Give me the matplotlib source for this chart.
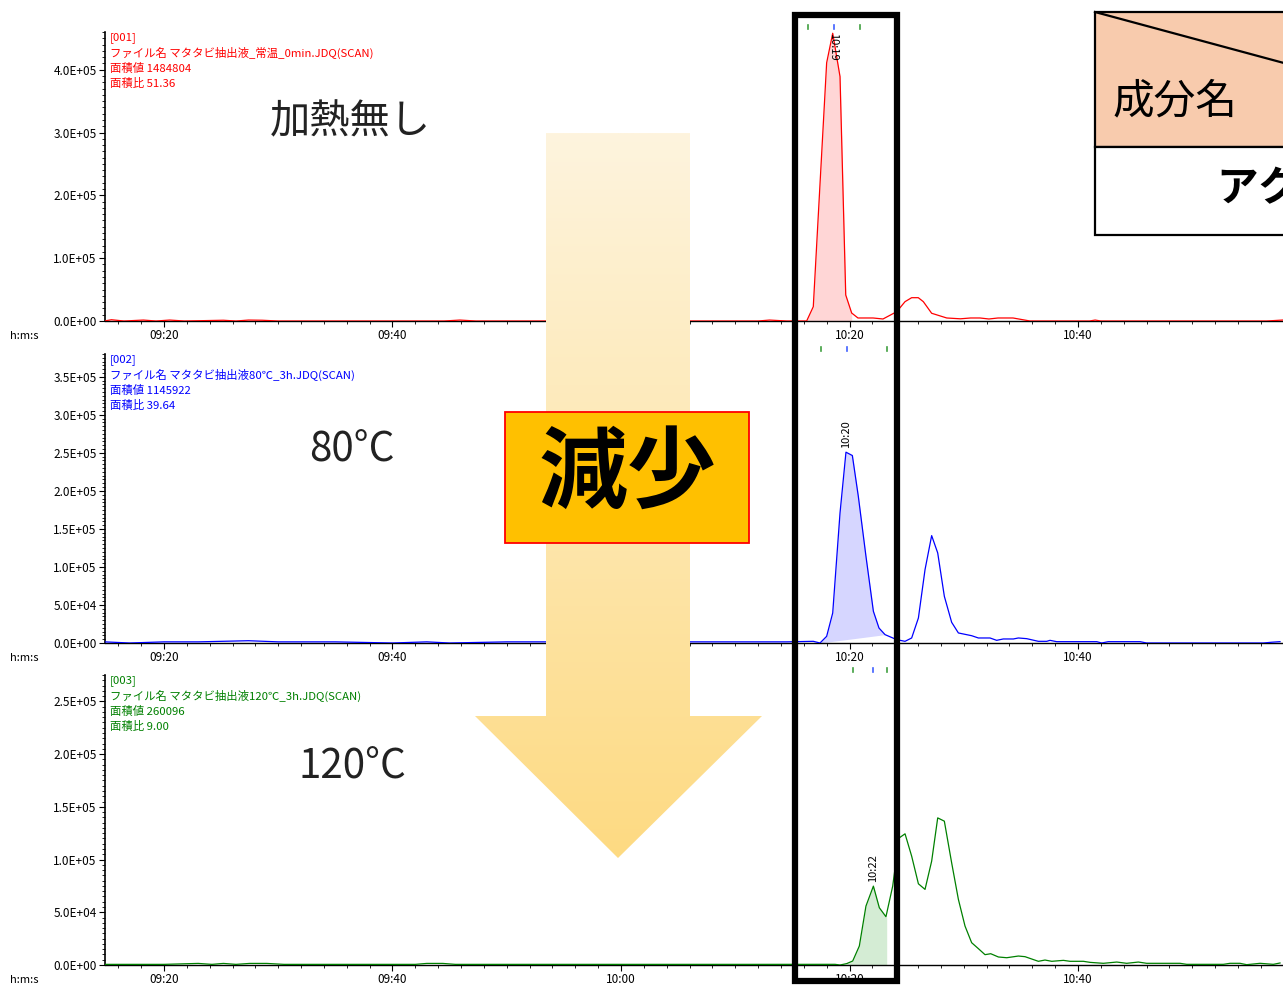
import numpy as np
import matplotlib.pyplot as plt
from matplotlib.patches import Rectangle, Polygon
from matplotlib.ticker import MultipleLocator, FuncFormatter

plt.rcParams['font.family'] = ['Noto Sans CJK JP', 'DejaVu Sans']

# retention time in seconds (09:20 = 560 s)
t1 = [554.8, 555.4, 556.5, 558.2, 559.3, 560.5, 561.8, 565.2, 566.3, 567.4, 568.6, 570.0,
      584.5, 585.9, 587.3, 612.0, 613.0, 614.5,
      616.25, 616.83, 618.0, 618.53, 619.17, 619.67, 620.19, 620.74, 622.06, 622.93,
      624.13, 624.86, 625.44, 626.02, 626.46, 627.19, 628.51, 629.7, 630.6, 631.42,
      632.2, 633.0, 634.31, 635.80, 641.0, 641.5, 642.0, 656.5, 657.9]
v1 = [0, 2000, 0, 1500, 0, 1500, 0, 1200, 0, 1500, 1200, 0,
      0, 1500, 0, 0, 1500, 0,
      0, 22800, 411000, 458000, 389000, 41400, 12700, 4800, 4800, 3200,
      14800, 30800, 37100, 37100, 30800, 12300, 4800, 3500, 4800, 4800,
      3200, 4800, 4800, 0, 0, 1500, 0, 0, 1500]

t2 = [554.8, 557.0, 560.0, 563.0, 567.4, 570.0, 575.0, 580.0, 583.0, 585.0, 590.0, 612.0,
      614.5, 616.83, 617.42, 618.0, 618.53, 619.17, 619.69, 620.25, 620.77, 621.44,
      622.09, 622.58, 623.11, 624.13, 624.86, 625.44, 626.03, 626.61, 627.19, 627.72,
      628.30, 628.94, 629.53, 630.69, 631.28, 632.30, 632.88, 633.46, 634.34, 634.78,
      635.51, 636.53, 637.26, 637.55, 638.13, 641.64, 642.07, 642.65, 645.43, 646.01,
      656.22, 656.95, 657.68]
v2 = [1500, 0, 1500, 1500, 3000, 1500, 1500, 0, 1500, 0, 1500, 1500,
      1500, 2200, 0, 8770, 39470, 171000, 250900, 246500, 193000, 114000,
      41700, 19700, 11000, 4400, 2200, 6600, 32900, 96500, 141200, 118400,
      61400, 27200, 13200, 9600, 6600, 6600, 3500, 5300, 5300, 6600,
      5700, 2200, 2200, 3500, 1750, 1750, 0, 1750, 1750, 0,
      0, 1000, 1750]

t3 = [554.8, 560.0, 563.0, 564.2, 565.2, 566.3, 567.5, 569.0, 570.5, 582.0, 583.0, 584.4,
      585.5, 587.0, 612.0,
      618.73, 619.17, 619.75, 620.28, 620.86, 621.44, 622.09, 622.61, 623.19, 623.78,
      624.13, 624.36, 624.86, 625.44, 626.03, 626.61, 627.19, 627.72, 628.30, 628.94,
      629.53, 630.11, 630.69, 631.28, 631.86, 632.36, 633.03, 633.76, 634.78, 635.36,
      636.53, 637.11, 637.70, 638.72, 639.30, 640.47, 641.05, 642.22, 643.39, 644.26,
      645.28, 646.01, 648.93, 649.51, 652.72, 653.30, 654.18, 654.76, 655.93, 657.09,
      657.68]
v3 = [600, 600, 1500, 600, 1500, 600, 1500, 1500, 600, 600, 1500, 1500,
      600, 600, 600,
      630, 0, 1300, 3790, 18000, 55900, 74800, 54300, 45800, 74800,
      103200, 120600, 124400, 103200, 77000, 71700, 98500, 139500, 136400, 96900,
      62200, 36900, 21150, 15500, 9800, 10700, 7600, 6900, 8500, 7900,
      3500, 4700, 3500, 4400, 3500, 3500, 2500, 1600, 2800, 1600,
      2800, 1600, 1600, 630, 630, 1600, 1600, 300, 1600, 630,
      1900]

titles = ['[001]', '[002]', '[003]']
files = ['ファイル名 マタタビ抽出液_常温_0min.JDQ(SCAN)',
         'ファイル名 マタタビ抽出液80℃_3h.JDQ(SCAN)',
         'ファイル名 マタタビ抽出液120℃_3h.JDQ(SCAN)']
areas = ['面積値 1484804', '面積値 1145922', '面積値 260096']
ratios = ['面積比 51.36', '面積比 39.64', '面積比 9.00']
conditions = ['加熱無し', '80°C', '120°C']
peak_rt = ['10:19', '10:20', '10:22']
# integration window and baseline end value for each peak
fill_start = [616.25, 617.42, 619.75]
fill_end = [620.19, 623.11, 623.19]
fill_base_end = [0, 11000, 0]
markers = [[616.4, 618.6, 620.9], [617.5, 619.8, 623.3], [620.3, 622.1, 623.3]]
ymax = [4.6e5, 3.8e5, 2.75e5]
ymajor = [1e5, 5e4, 5e4]

colors = ['#ff0000', '#0000ff', '#008000']
fills = ['#ffd6d6', '#d6d6ff', '#d4ecd4']

W, H = 1283, 985
fig = plt.figure(figsize=(W / 100, H / 100), dpi=100)

series = [(t1, v1), (t2, v2), (t3, v3)]
axes_px = [(32, 321), (354, 643), (675, 965)]

for i, (t, v) in enumerate(series):
    top, bot = axes_px[i]
    ax = fig.add_axes([105 / W, 1 - bot / H, 1 - 105 / W, (bot - top) / H])
    t = np.array(t)
    v = np.array(v, dtype=float)
    c = colors[i]
    ax.plot(t, v, color=c, lw=0.9, zorder=3)
    m = (t >= fill_start[i]) & (t <= fill_end[i])
    base = np.interp(t[m], [fill_start[i], fill_end[i]], [0, fill_base_end[i]])
    ax.fill_between(t[m], base, v[m], color=fills[i], lw=0, zorder=2)
    if i == 2:
        ax.vlines(fill_end[i], 0, v[m][-1], color=fills[i], lw=1, zorder=2)

    # apex of the integrated peak
    k = int(np.argmax(v[m]))
    pk_t, pk_v = t[m][k], v[m][k]
    if i == 0:
        ax.text(pk_t, ymax[i] * 0.995, peak_rt[i], rotation=270, ha='center', va='top', fontsize=8)
    else:
        ax.annotate(peak_rt[i], (pk_t, pk_v), xytext=(0, 3), textcoords='offset points',
                    rotation=90, ha='center', va='bottom', fontsize=8)

    for j, mx in enumerate(markers[i]):
        mc = '#4060ff' if j == 1 else '#40a040'
        ax.plot([mx, mx], [1.009, 1.024], color=mc, lw=1.2,
                transform=ax.get_xaxis_transform(), clip_on=False)

    ax.set_xlim(554.84, 657.94)
    ax.set_ylim(0, ymax[i])
    ax.xaxis.set_major_locator(MultipleLocator(20))
    ax.xaxis.set_minor_locator(MultipleLocator(2))
    ax.xaxis.set_major_formatter(FuncFormatter(lambda x, p: f"{int(round(x)) // 60:02d}:{int(round(x)) % 60:02d}"))
    ax.yaxis.set_major_locator(MultipleLocator(ymajor[i]))
    ax.yaxis.set_minor_locator(MultipleLocator(ymajor[i] / 10))
    ax.yaxis.set_major_formatter(FuncFormatter(lambda y, p: f"{y:.1E}"))
    ax.tick_params(which='major', direction='out', length=4, width=0.8, labelsize=8.5, pad=2)
    ax.tick_params(which='minor', direction='out', length=2, width=0.6)
    for s in ['top', 'right']:
        ax.spines[s].set_visible(False)
    ax.spines['left'].set_linewidth(1.2)
    ax.spines['bottom'].set_linewidth(1.0)
    ax.patch.set_alpha(0)

    info = [titles[i], files[i], areas[i], ratios[i]]
    for j, line in enumerate(info):
        ax.annotate(line, (0, 1), xycoords='axes fraction',
                    xytext=(3.6, -(6 + 15.3 * j) * 0.72), textcoords='offset points',
                    va='center', ha='left', fontsize=8.2, color=c)

    fig.text(10 / W, 1 - (bot + 15) / H, 'h:m:s', fontsize=8, va='center', ha='left')

# overlay in pixel coordinates for the slide decorations
ov = fig.add_axes([0, 0, 1, 1], zorder=10)
ov.set_xlim(0, W)
ov.set_ylim(H, 0)
ov.axis('off')
ov.patch.set_alpha(0)

arrow_pts = [(546, 133), (690, 133), (690, 716), (762, 716), (618, 858), (475, 716), (546, 716)]
arrow = Polygon(arrow_pts, closed=True, facecolor='none', edgecolor='none')
ov.add_patch(arrow)
top_c = np.array([254, 244, 222]) / 255
bot_c = np.array([253, 218, 130]) / 255
g = np.linspace(0, 1, 256)[:, None, None]
grad = top_c * (1 - g) + bot_c * g
im = ov.imshow(grad, extent=[475, 762, 858, 133], origin='upper', aspect='auto', zorder=1)
im.set_clip_path(arrow)
ov.set_xlim(0, W)
ov.set_ylim(H, 0)

ov.add_patch(Rectangle((505, 412), 244, 131, facecolor='#ffc000', edgecolor='#ff0000', lw=1.3, zorder=2))
ov.text(627, 475, '減少', fontsize=64, fontweight='bold', ha='center', va='center', zorder=3)

ov.add_patch(Rectangle((795, 14.5), 102, 966, facecolor='none', edgecolor='black', lw=4.5, zorder=4))

ov.add_patch(Rectangle((1095, 12), 200, 135, facecolor='#f8cbad', edgecolor='black', lw=1.6, zorder=2))
ov.add_patch(Rectangle((1095, 147), 200, 88, facecolor='white', edgecolor='black', lw=1.6, zorder=2))
ov.plot([1095, 1295], [12, 66], color='black', lw=1.6, zorder=3)
ov.text(1113, 102, '成分名', fontsize=30, ha='left', va='center', zorder=3)
ov.text(1216, 189, 'アクチニジン', fontsize=30, fontweight='bold', ha='left', va='center', zorder=3)

for lab, (x, y) in zip(conditions, [(350, 122), (352, 449), (352, 766)]):
    ov.text(x, y, lab, fontsize=29, ha='center', va='center', color='#222222', zorder=3)

fig.savefig('out.png', dpi=100)
